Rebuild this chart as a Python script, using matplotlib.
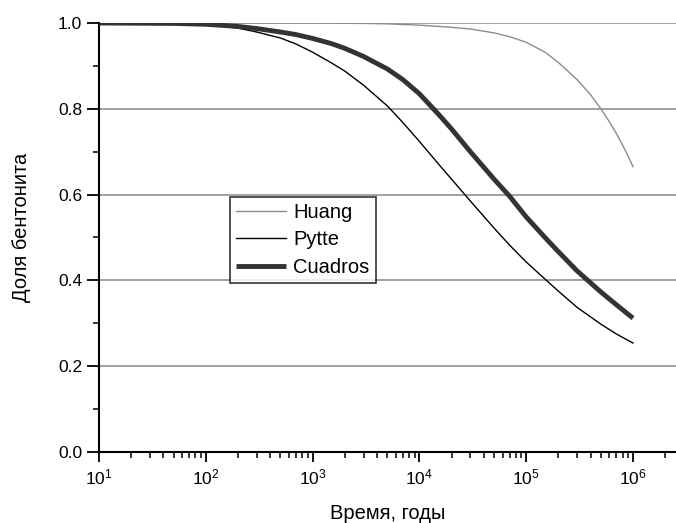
import numpy as np
import matplotlib
matplotlib.use("Agg")
import matplotlib.pyplot as plt
from matplotlib.ticker import LogLocator, MultipleLocator, NullFormatter

plt.rcParams['font.family'] = ['Liberation Sans', 'DejaVu Sans']

# Data
t_huang = [10, 1000, 3000, 5000, 1e4, 2e4, 3e4, 5e4, 7e4, 1e5, 1.5e5, 2e5, 3e5, 4e5,
           5e5, 6e5, 7e5, 8e5, 9e5, 1e6]
huang = [1.0, 1.0, 0.999, 0.998, 0.995, 0.99, 0.986, 0.977, 0.968, 0.955, 0.932, 0.908,
         0.868, 0.833, 0.80, 0.77, 0.742, 0.715, 0.69, 0.665]

t_pytte = [10, 30, 50, 100, 150, 200, 300, 500, 700, 1000, 1500, 2000, 3000, 5000, 7000,
           1e4, 1.5e4, 2e4, 3e4, 5e4, 7e4, 1e5, 1.5e5, 2e5, 3e5, 5e5, 7e5, 1e6]
pytte = [1.0, 1.0, 0.999, 0.996, 0.992, 0.988, 0.979, 0.965, 0.951, 0.932, 0.907, 0.888,
         0.855, 0.807, 0.768, 0.724, 0.672, 0.636, 0.585, 0.522, 0.482, 0.443, 0.403,
         0.375, 0.337, 0.298, 0.275, 0.254]

t_cuadros = [10, 50, 100, 200, 300, 500, 700, 1000, 1500, 2000, 3000, 5000, 7000, 1e4,
             1.5e4, 2e4, 3e4, 5e4, 7e4, 1e5, 1.5e5, 2e5, 3e5, 5e5, 7e5, 1e6]
cuadros = [1.0, 0.999, 0.997, 0.992, 0.987, 0.979, 0.973, 0.964, 0.952, 0.941, 0.922,
           0.893, 0.868, 0.835, 0.788, 0.753, 0.70, 0.636, 0.596, 0.548, 0.50, 0.467,
           0.422, 0.373, 0.343, 0.312]

W, H = 676, 523
fig = plt.figure(figsize=(W / 100, H / 100), dpi=100)
ax = fig.add_axes([99 / W, (H - 452) / H, (W - 99) / W, (452 - 23) / H])

ax.set_xscale('log')
ax.set_xlim(10, 10 ** (1 + 577 / 106.8))
ax.set_ylim(0, 1.0)

# grid lines
for yv in [0.2, 0.4, 0.6, 0.8, 1.0]:
    ax.axhline(yv, color='#9a9a9a', lw=1.3, zorder=1)

ax.plot(t_huang, huang, color='#8c8c8c', lw=1.0, label='Huang', zorder=3)
ax.plot(t_pytte, pytte, color='black', lw=1.0, label='Pytte', zorder=3)
ax.plot(t_cuadros, cuadros, color='#333333', lw=3.5, label='Cuadros', zorder=4,
        solid_capstyle='butt')

ax.spines['top'].set_visible(False)
ax.spines['right'].set_visible(False)
ax.spines['left'].set_linewidth(1.5)
ax.spines['bottom'].set_linewidth(1.5)

ax.yaxis.set_minor_locator(MultipleLocator(0.1))
ax.set_yticks([0.0, 0.2, 0.4, 0.6, 0.8, 1.0])
ax.set_yticklabels(['0.0', '0.2', '0.4', '0.6', '0.8', '1.0'])

ax.xaxis.set_minor_locator(LogLocator(base=10, subs=np.arange(2, 10), numticks=100))
ax.xaxis.set_minor_formatter(NullFormatter())
xt = [10, 100, 1000, 1e4, 1e5, 1e6]
ax.set_xticks(xt)
ax.set_xticklabels([r'$\mathregular{10^{%d}}$' % i for i in range(1, 7)])

ax.tick_params(axis='both', which='major', direction='out', length=9, width=1.3,
               labelsize=12.5, colors='black', pad=3)
ax.tick_params(axis='both', which='minor', direction='out', length=4.5, width=1.1)
ax.tick_params(axis='x', which='major', length=7, pad=4)
ax.tick_params(axis='x', which='minor', length=4)

ax.set_xlabel('Время, годы', fontsize=14.5, labelpad=12)
ax.set_ylabel('Доля бентонита', fontsize=14.5, labelpad=14)
ax.yaxis.set_label_coords(-0.118, (452 - 227) / 429)

leg = ax.legend(loc='upper left', bbox_to_anchor=((230 - 99) / 577, (452 - 197) / 429),
                fontsize=14.5, frameon=True, fancybox=False, handlelength=2.5,
                handletextpad=0.35, borderpad=0.3, labelspacing=0.42, borderaxespad=0)
leg.get_frame().set_edgecolor('black')
leg.get_frame().set_linewidth(1.2)
leg.set_zorder(5)

fig.savefig('out.png', dpi=100)
